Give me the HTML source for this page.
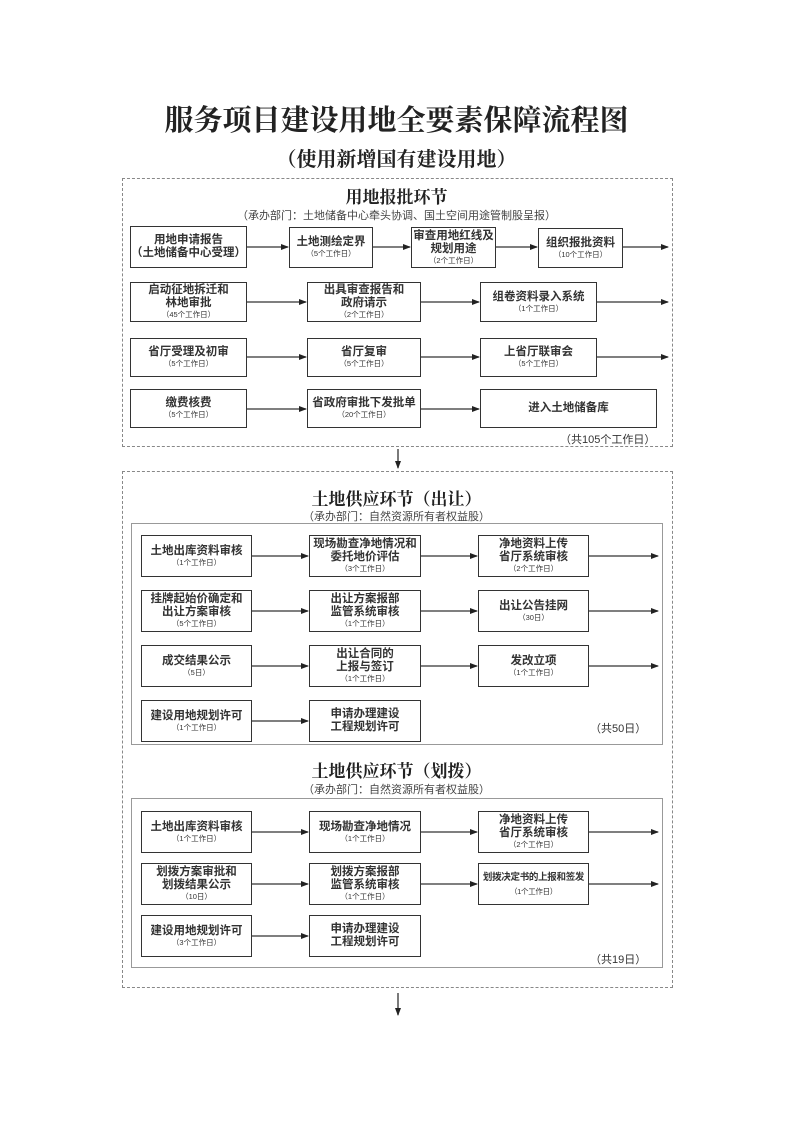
<!DOCTYPE html>
<html><head><meta charset="utf-8"><style>
*{margin:0;padding:0;box-sizing:border-box}
body{width:793px;height:1122px;background:#fff;position:relative;overflow:hidden;font-family:"Liberation Sans","Noto Sans CJK SC",sans-serif;color:#222}
.t{position:absolute;left:0;width:793px;text-align:center;white-space:nowrap}
.b{position:absolute;border:1.6px solid #333;background:#fff;display:flex;flex-direction:column;justify-content:center;align-items:center;text-align:center;font-size:11.5px;line-height:13px;font-weight:bold;color:#333;white-space:nowrap}
.b small{font-size:7.5px;line-height:10px;font-weight:normal}
.d{position:absolute;border:1.2px dashed #888}
.s{position:absolute;border:1.2px solid #999}
.n{position:absolute;font-size:11px;white-space:nowrap;color:#333}
svg{position:absolute;left:0;top:0}
</style></head><body>
<div class="t" style="top:98px;font-size:29px;font-weight:bold;font-family:'Noto Serif CJK SC',serif;color:#222">服务项目建设用地全要素保障流程图</div>
<div class="t" style="top:143px;font-size:20px;font-weight:bold;font-family:'Noto Serif CJK SC',serif">（使用新增国有建设用地）</div>

<div class="d" style="left:122px;top:178px;width:551px;height:269px"></div>
<div class="t" style="top:183px;font-size:17px;font-weight:bold;font-family:'Noto Serif CJK SC',serif">用地报批环节</div>
<div class="t" style="top:207px;font-size:11px;color:#444">（承办部门：土地储备中心牵头协调、国土空间用途管制股呈报）</div>

<div class="b" style="left:130px;top:226px;width:117px;height:42px">用地申请报告<br>（土地储备中心受理）</div>
<div class="b" style="left:289px;top:227px;width:84px;height:41px">土地测绘定界<small>（5个工作日）</small></div>
<div class="b" style="left:411px;top:227px;width:85px;height:41px">审查用地红线及<br>规划用途<small>（2个工作日）</small></div>
<div class="b" style="left:538px;top:228px;width:85px;height:40px">组织报批资料<small>（10个工作日）</small></div>

<div class="b" style="left:130px;top:282px;width:117px;height:40px">启动征地拆迁和<br>林地审批<small>（45个工作日）</small></div>
<div class="b" style="left:307px;top:282px;width:114px;height:40px">出具审查报告和<br>政府请示<small>（2个工作日）</small></div>
<div class="b" style="left:480px;top:282px;width:117px;height:40px">组卷资料录入系统<small>（1个工作日）</small></div>

<div class="b" style="left:130px;top:338px;width:117px;height:39px">省厅受理及初审<small>（5个工作日）</small></div>
<div class="b" style="left:307px;top:338px;width:114px;height:39px">省厅复审<small>（5个工作日）</small></div>
<div class="b" style="left:480px;top:338px;width:117px;height:39px">上省厅联审会<small>（5个工作日）</small></div>

<div class="b" style="left:130px;top:389px;width:117px;height:39px">缴费核费<small>（5个工作日）</small></div>
<div class="b" style="left:307px;top:389px;width:114px;height:39px">省政府审批下发批单<small>（20个工作日）</small></div>
<div class="b" style="left:480px;top:389px;width:177px;height:39px">进入土地储备库</div>
<div class="n" style="left:560px;top:431px">（共105个工作日）</div>

<div class="d" style="left:122px;top:471px;width:551px;height:517px"></div>
<div class="t" style="top:485px;font-size:17px;font-weight:bold;font-family:'Noto Serif CJK SC',serif">土地供应环节（出让）</div>
<div class="t" style="top:508px;font-size:11px;color:#444">（承办部门：自然资源所有者权益股）</div>
<div class="s" style="left:131px;top:523px;width:532px;height:222px"></div>

<div class="b" style="left:141px;top:535px;width:111px;height:42px">土地出库资料审核<small>（1个工作日）</small></div>
<div class="b" style="left:309px;top:535px;width:112px;height:42px">现场勘查净地情况和<br>委托地价评估<small>（3个工作日）</small></div>
<div class="b" style="left:478px;top:535px;width:111px;height:42px">净地资料上传<br>省厅系统审核<small>（2个工作日）</small></div>

<div class="b" style="left:141px;top:590px;width:111px;height:42px">挂牌起始价确定和<br>出让方案审核<small>（5个工作日）</small></div>
<div class="b" style="left:309px;top:590px;width:112px;height:42px">出让方案报部<br>监管系统审核<small>（1个工作日）</small></div>
<div class="b" style="left:478px;top:590px;width:111px;height:42px">出让公告挂网<small>（30日）</small></div>

<div class="b" style="left:141px;top:645px;width:111px;height:42px">成交结果公示<small>（5日）</small></div>
<div class="b" style="left:309px;top:645px;width:112px;height:42px">出让合同的<br>上报与签订<small>（1个工作日）</small></div>
<div class="b" style="left:478px;top:645px;width:111px;height:42px">发改立项<small>（1个工作日）</small></div>

<div class="b" style="left:141px;top:700px;width:111px;height:42px">建设用地规划许可<small>（1个工作日）</small></div>
<div class="b" style="left:309px;top:700px;width:112px;height:42px">申请办理建设<br>工程规划许可</div>
<div class="n" style="left:590px;top:720px">（共50日）</div>

<div class="t" style="top:757px;font-size:17px;font-weight:bold;font-family:'Noto Serif CJK SC',serif">土地供应环节（划拨）</div>
<div class="t" style="top:781px;font-size:11px;color:#444">（承办部门：自然资源所有者权益股）</div>
<div class="s" style="left:131px;top:798px;width:532px;height:170px"></div>

<div class="b" style="left:141px;top:811px;width:111px;height:42px">土地出库资料审核<small>（1个工作日）</small></div>
<div class="b" style="left:309px;top:811px;width:112px;height:42px">现场勘查净地情况<small>（1个工作日）</small></div>
<div class="b" style="left:478px;top:811px;width:111px;height:42px">净地资料上传<br>省厅系统审核<small>（2个工作日）</small></div>

<div class="b" style="left:141px;top:863px;width:111px;height:42px">划拨方案审批和<br>划拨结果公示<small>（10日）</small></div>
<div class="b" style="left:309px;top:863px;width:112px;height:42px">划拨方案报部<br>监管系统审核<small>（1个工作日）</small></div>
<div class="b" style="left:478px;top:863px;width:111px;height:42px;font-size:9.5px;letter-spacing:-0.3px">划拨决定书的上报和签发<small style="margin-top:3px">（1个工作日）</small></div>

<div class="b" style="left:141px;top:915px;width:111px;height:42px">建设用地规划许可<small>（3个工作日）</small></div>
<div class="b" style="left:309px;top:915px;width:112px;height:42px">申请办理建设<br>工程规划许可</div>
<div class="n" style="left:590px;top:951px">（共19日）</div>

<svg width="793" height="1122">
<defs><marker id="a" markerWidth="8" markerHeight="6" refX="7" refY="3" orient="auto" markerUnits="userSpaceOnUse"><path d="M0,0L8,3L0,6z" fill="#222"/></marker></defs>
<g stroke="#333" stroke-width="1.3" marker-end="url(#a)">
<line x1="247" y1="247" x2="288" y2="247"/><line x1="373" y1="247" x2="410" y2="247"/><line x1="496" y1="247" x2="537" y2="247"/><line x1="623" y1="247" x2="668" y2="247"/>
<line x1="247" y1="302" x2="306" y2="302"/><line x1="421" y1="302" x2="479" y2="302"/><line x1="597" y1="302" x2="668" y2="302"/>
<line x1="247" y1="357" x2="306" y2="357"/><line x1="421" y1="357" x2="479" y2="357"/><line x1="597" y1="357" x2="668" y2="357"/>
<line x1="247" y1="409" x2="306" y2="409"/><line x1="421" y1="409" x2="479" y2="409"/>
<line x1="398" y1="449" x2="398" y2="468"/>
<line x1="252" y1="556" x2="308" y2="556"/><line x1="421" y1="556" x2="477" y2="556"/><line x1="589" y1="556" x2="658" y2="556"/>
<line x1="252" y1="611" x2="308" y2="611"/><line x1="421" y1="611" x2="477" y2="611"/><line x1="589" y1="611" x2="658" y2="611"/>
<line x1="252" y1="666" x2="308" y2="666"/><line x1="421" y1="666" x2="477" y2="666"/><line x1="589" y1="666" x2="658" y2="666"/>
<line x1="252" y1="721" x2="308" y2="721"/>
<line x1="252" y1="832" x2="308" y2="832"/><line x1="421" y1="832" x2="477" y2="832"/><line x1="589" y1="832" x2="658" y2="832"/>
<line x1="252" y1="884" x2="308" y2="884"/><line x1="421" y1="884" x2="477" y2="884"/><line x1="589" y1="884" x2="658" y2="884"/>
<line x1="252" y1="936" x2="308" y2="936"/>
<line x1="398" y1="993" x2="398" y2="1015"/>
</g></svg>
</body></html>
